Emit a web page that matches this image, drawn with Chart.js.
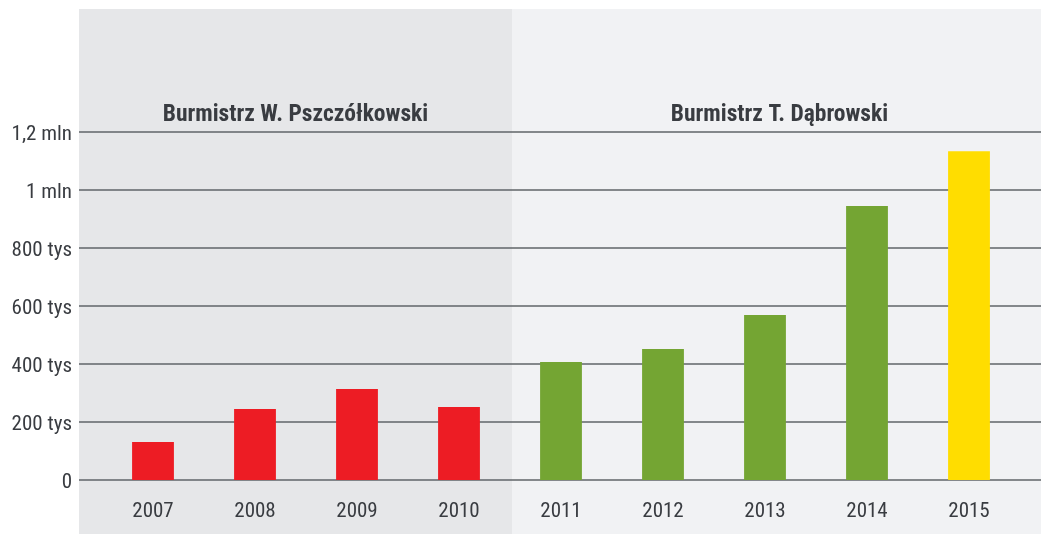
<!DOCTYPE html>
<html>
<head>
<meta charset="utf-8">
<script src="https://cdn.jsdelivr.net/npm/chart.js@4/dist/chart.umd.min.js"></script>
<style>
html,body{margin:0;padding:0;background:#fff;}
#wrap{width:1041px;height:534px;position:relative;}
</style>
</head>
<body>
<div id="wrap"><canvas id="c" width="1041" height="534"></canvas></div>
<script>
const years = ['2007','2008','2009','2010','2011','2012','2013','2014','2015'];
const amounts = [131000, 245000, 314000, 252000, 407000, 452000, 569000, 945000, 1134000];
const barColors = ['#ed1c24','#ed1c24','#ed1c24','#ed1c24','#74a533','#74a533','#74a533','#74a533','#ffdd00'];
const yTickValues = [0, 200000, 400000, 600000, 800000, 1000000, 1200000];
const yTickLabels = ['0','200 tys','400 tys','600 tys','800 tys','1 mln','1,2 mln'];
const groupLabels = ['Burmistrz W. Pszczółkowski','Burmistrz T. Dąbrowski'];
const groupEnds = [3, 8]; // last category index of each group

const FONT = "'Roboto Condensed', 'Liberation Sans Narrow', 'Roboto', sans-serif";
const TEXT = '#393c41';

const panelPlugin = {
  id: 'panels',
  beforeDraw(chart) {
    const ctx = chart.ctx, x = chart.scales.x, y = chart.scales.y;
    const left = 79, right = chart.width, top = 9, bottom = chart.height;
    const split = Math.round(x.getPixelForValue(groupEnds[0] + 0.5)) + 2;
    ctx.save();
    ctx.fillStyle = '#e6e7e9';
    ctx.fillRect(left, top, split - left, bottom - top);
    ctx.fillStyle = '#f1f2f4';
    ctx.fillRect(split, top, right - split, bottom - top);
    // grid lines across the whole panel
    ctx.strokeStyle = '#5f6468';
    ctx.lineWidth = 1.6;
    yTickValues.forEach(v => {
      const py = Math.round(y.getPixelForValue(v));
      ctx.beginPath();
      ctx.moveTo(left, py);
      ctx.lineTo(right, py);
      ctx.stroke();
    });
    // group headers
    ctx.fillStyle = TEXT;
    ctx.font = "bold 23.5px " + FONT;
    try { ctx.fontStretch = 'condensed'; } catch(e) {}
    ctx.textAlign = 'center';
    ctx.textBaseline = 'middle';
    const centers = [(left + split) / 2, (split + right) / 2 + 3];
    groupLabels.forEach((t, i) => ctx.fillText(t, centers[i], 115));
    ctx.restore();
  }
};

new Chart(document.getElementById('c'), {
  type: 'bar',
  data: {
    labels: years,
    datasets: [{
      data: amounts,
      backgroundColor: barColors,
      borderWidth: 0,
      barPercentage: 0.41,
      categoryPercentage: 1.0
    }]
  },
  options: {
    responsive: false,
    animation: false,
    events: [],
    layout: { padding: { top: 132, right: 21, left: 0, bottom: 0 } },
    plugins: { legend: { display: false }, tooltip: { enabled: false } },
    scales: {
      x: {
        offset: true,
        grid: { display: false, drawTicks: false },
        border: { display: false },
        ticks: { color: TEXT, font: { family: FONT, size: 21, style: 'condensed' }, padding: 19, maxRotation: 0 },
        afterFit(s) { s.height = 54; }
      },
      y: {
        min: 0, max: 1200000,
        grid: { display: false, drawTicks: false },
        border: { display: false },
        afterBuildTicks(s) { s.ticks = yTickValues.map(v => ({ value: v })); },
        ticks: {
          color: TEXT,
          font: { family: FONT, size: 21, style: 'condensed' },
          padding: 30,
          labelOffset: 2.5,
          callback: (v, i) => yTickLabels[i]
        },
        afterFit(s) { s.width = 102; }
      }
    }
  },
  plugins: [panelPlugin]
});
</script>
</body>
</html>
